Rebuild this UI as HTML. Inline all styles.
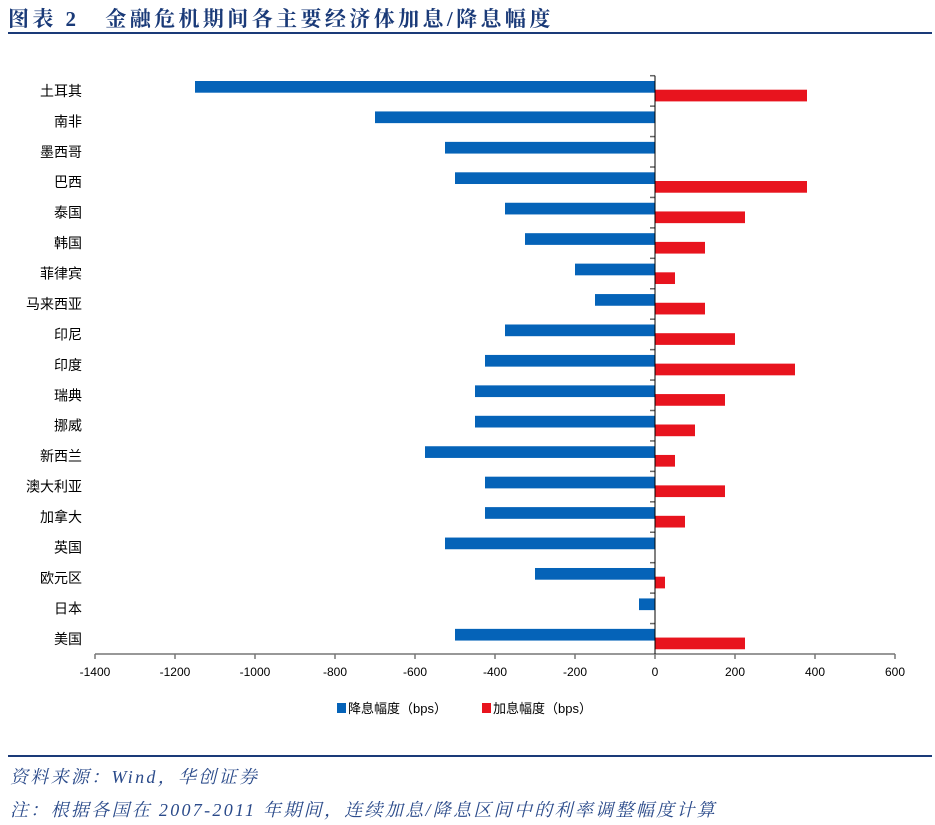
<!DOCTYPE html>
<html><head><meta charset="utf-8"><style>
body{margin:0;width:935px;height:825px;background:#fff;overflow:hidden;position:relative;font-family:"Liberation Sans","Noto Sans CJK SC",sans-serif}
.title{position:absolute;left:8px;top:3px;font:bold 21px "Liberation Serif","Noto Serif CJK SC",serif;color:#1a3a78;letter-spacing:3.4px;white-space:nowrap}
.rule{position:absolute;left:8px;width:924px;height:2px;background:#1a3a78}
.foot{position:absolute;left:10px;font:italic 18px "Liberation Serif","Noto Serif CJK SC",serif;color:#2a4a8a;letter-spacing:2.3px;white-space:nowrap}
</style></head><body>
<div class="title">图表 2&nbsp;&nbsp;&nbsp;金融危机期间各主要经济体加息/降息幅度</div>
<div class="rule" style="top:32px"></div>
<svg id="chart" width="935" height="740" style="position:absolute;left:0;top:0"></svg>
<div class="rule" style="top:755px"></div>
<div class="foot" style="top:763px">资料来源：Wind，华创证券</div>
<div class="foot" style="top:796px">注：根据各国在 2007-2011 年期间，连续加息/降息区间中的利率调整幅度计算</div>
<script>
const categories=["土耳其","南非","墨西哥","巴西","泰国","韩国","菲律宾","马来西亚","印尼","印度","瑞典","挪威","新西兰","澳大利亚","加拿大","英国","欧元区","日本","美国"];
const cuts=[-1150,-700,-525,-500,-375,-325,-200,-150,-375,-425,-450,-450,-575,-425,-425,-525,-300,-40,-500];
const hikes=[380,0,0,380,225,125,50,125,200,350,175,100,50,175,75,0,25,0,225];
const ticks=[-1400,-1200,-1000,-800,-600,-400,-200,0,200,400,600];
const svg=document.getElementById('chart');const NS='http://www.w3.org/2000/svg';
const x0=95,x1=895,top0=75.7,bottom=654;
const band=(bottom-top0)/categories.length;
const X=v=>x0+(v+1400)/2000*(x1-x0);
function mk(t,a,p){const e=document.createElementNS(NS,t);for(const k in a)e.setAttribute(k,a[k]);(p||svg).appendChild(e);return e;}
categories.forEach((c,i)=>{
 const y=top0+i*band;
 const t=mk('text',{x:82,y:y+band/2+5,'text-anchor':'end','font-size':14,fill:'#000'});t.textContent=c;
 
 
 const tk=mk('line',{x1:X(0)-5,x2:X(0),y1:y,y2:y,stroke:'#666','stroke-width':1.5});
 
 
 const b=mk('rect',{x:X(Math.min(cuts[i],0)),y:y+5.3,width:Math.abs(X(cuts[i])-X(0)),height:11.7,fill:'#0563b8'});
 
 
 if(hikes[i]>0){const r=mk('rect',{x:X(0),y:y+14,width:X(hikes[i])-X(0),height:11.7,fill:'#e8141e'});
 
 }
});
const ax=mk('line',{x1:x0,x2:x1,y1:bottom,y2:bottom,stroke:'#777','stroke-width':1.5});


const zl=mk('line',{x1:X(0),x2:X(0),y1:top0,y2:bottom,stroke:'#000','stroke-width':1});


ticks.forEach(v=>{
 const l=mk('line',{x1:X(v),x2:X(v),y1:bottom,y2:bottom+5,stroke:'#777','stroke-width':1.5});
 
 
 const t=mk('text',{x:X(v),y:bottom+22,'text-anchor':'middle','font-size':12,fill:'#000'});t.textContent=v;
 
 
});
const lg=[["#0563b8","降息幅度（bps）",337],["#e8141e","加息幅度（bps）",482]];
lg.forEach(d=>{
 const g=mk('g',{});
 
 
 mk('rect',{x:d[2],y:703,width:9,height:10,fill:d[0]},g);
 const t=mk('text',{x:d[2]+11,y:713,'font-size':13,fill:'#000'},g);t.textContent=d[1];
});
</script>
</body></html>
